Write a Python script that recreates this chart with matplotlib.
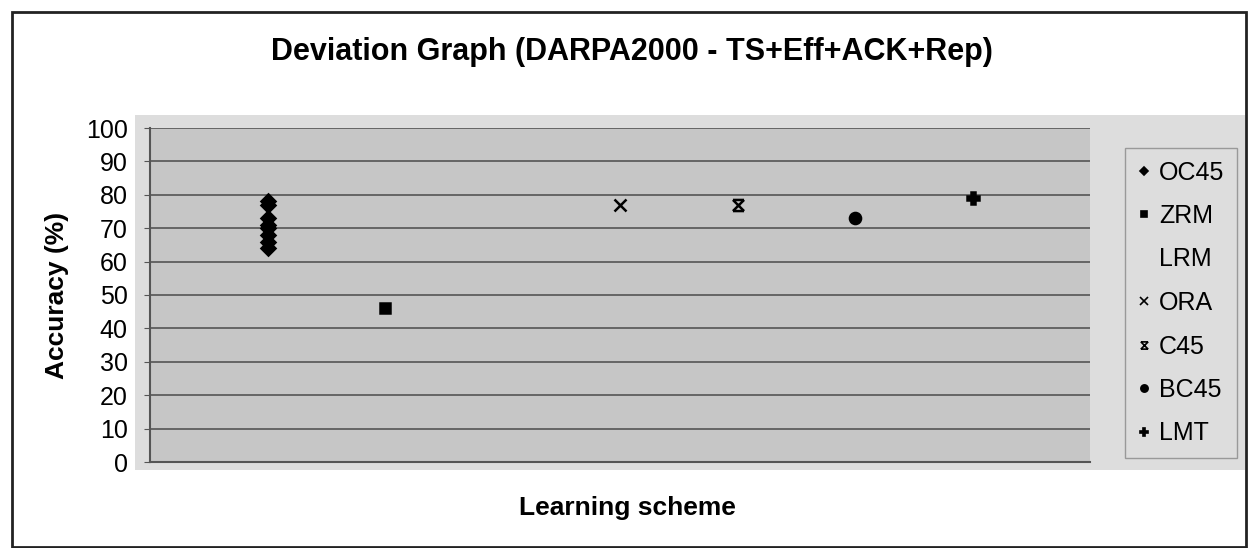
import matplotlib
matplotlib.use("Agg")
import matplotlib.pyplot as plt
from matplotlib.patches import Rectangle
from matplotlib.lines import Line2D
from matplotlib.path import Path

plt.rcParams["font.family"] = ["Liberation Sans", "DejaVu Sans"]

# data
schemes = ["OC45", "ZRM", "LRM", "ORA", "C45", "BC45", "LMT"]
oc45 = [78, 77, 73, 71, 70, 68, 66, 64]
zrm = [46]
lrm = []
ora = [77]
c45 = [77]
bc45 = [73]
lmt = [79]

series = [oc45, zrm, lrm, ora, c45, bc45, lmt]

# Excel "star" style marker: an x with bars on top and bottom
star = Path([(-1, -1), (1, 1), (-1, 1), (1, -1), (-1, 1), (1, 1), (-1, -1), (1, -1)],
            [Path.MOVETO, Path.LINETO, Path.MOVETO, Path.LINETO,
             Path.MOVETO, Path.LINETO, Path.MOVETO, Path.LINETO])
markers = ["D", "s", "None", "x", star, "o", "P"]
sizes = [7, 7, 6, 9, 8, 8, 9]
yticks = list(range(0, 101, 10))

fig = plt.figure(figsize=(12.52, 5.48), dpi=100)
fig.patch.set_facecolor("white")

# outer frame and grey chart panel
fig.add_artist(Rectangle((12 / 1252, 0.002), 1234 / 1252, 1 - 12 / 548 - 0.002,
                         transform=fig.transFigure, fill=False,
                         edgecolor="#222222", linewidth=2))
fig.add_artist(Rectangle((135 / 1252, 1 - 470 / 548), 1110 / 1252, 355 / 548,
                         transform=fig.transFigure, facecolor="#dddddd",
                         edgecolor="none", zorder=0))

ax = fig.add_axes([150 / 1252, 1 - 462 / 548, 940 / 1252, 334 / 548])
ax.set_facecolor("#c6c6c6")

for i, (name, vals) in enumerate(zip(schemes, series)):
    xs = [i + 1] * len(vals)
    ax.plot(xs, vals, linestyle="none", marker=markers[i], markersize=sizes[i],
            color="black", markeredgewidth=1.8, label=name, zorder=3)

ax.set_xlim(0, 8)
ax.set_ylim(0, 100)
ax.set_yticks(yticks)
ax.set_xticks([])
ax.grid(axis="y", color="#555555", linewidth=1.2)
ax.set_axisbelow(True)
for s in ["top", "right"]:
    ax.spines[s].set_visible(False)
ax.spines["left"].set_color("#555555")
ax.spines["bottom"].set_color("#555555")
ax.spines["left"].set_linewidth(1.5)
ax.spines["bottom"].set_linewidth(1.5)
ax.tick_params(axis="y", labelsize=18, length=4, color="#555555", pad=12)

ax.set_ylabel("Accuracy (%)", fontsize=19, fontweight="bold", labelpad=12)
fig.text(0.501, 1 - 508 / 548, "Learning scheme", ha="center", va="center",
         fontsize=19, fontweight="bold")
fig.text(0.505, 1 - 52 / 548, "Deviation Graph (DARPA2000 - TS+Eff+ACK+Rep)",
         ha="center", va="center", fontsize=22, fontweight="bold")

handles = [Line2D([], [], linestyle="none", marker=markers[i], color="black",
                  markersize=sizes[i] * 0.65, markeredgewidth=1.2)
           for i in range(len(schemes))]
leg = fig.legend(handles, schemes, loc="upper left",
                 bbox_to_anchor=(1125 / 1252, 1 - 148 / 548),
                 fontsize=18, frameon=True, fancybox=False, handlelength=0.5,
                 handletextpad=0.35, labelspacing=0.78, borderpad=0.5,
                 borderaxespad=0)
leg.get_frame().set_facecolor("#dddddd")
leg.get_frame().set_edgecolor("#888888")

plt.savefig("out.png", dpi=100)
plt.close()
